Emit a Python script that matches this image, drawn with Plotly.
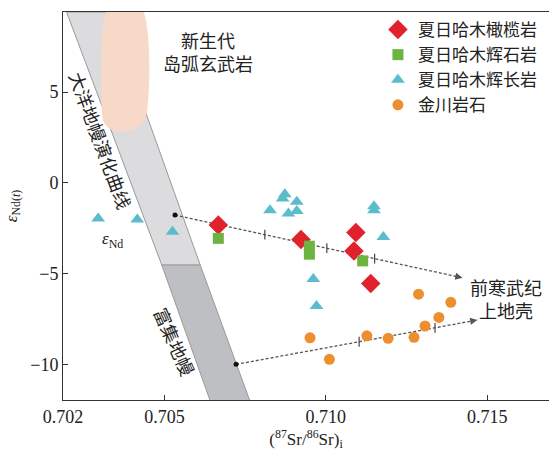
import plotly.graph_objects as go

# ---- data ----
ol_sr = [0.70667, 0.70923, 0.71093, 0.71087, 0.71139]
ol_nd = [-2.32, -3.11, -2.73, -3.75, -5.53]

px_sr = [0.70667, 0.70949, 0.70949, 0.71114]
px_nd = [-3.05, -3.48, -3.92, -4.29]

gb_sr = [0.70295, 0.70416, 0.70525, 0.70873, 0.70866, 0.70910, 0.70827, 0.70884,
         0.70910, 0.71149, 0.71149, 0.71178, 0.70961, 0.70971]
gb_nd = [-1.96, -2.01, -2.69, -0.62, -0.86, -1.04, -1.50, -1.68,
         -1.55, -1.28, -1.50, -2.97, -5.29, -6.77]

jc_sr = [0.70951, 0.71011, 0.71127, 0.71193, 0.71273, 0.71307, 0.71350, 0.71387, 0.71287]
jc_nd = [-8.52, -9.70, -8.41, -8.55, -8.49, -7.87, -7.40, -6.57, -6.12]

# mixing trends (start, end)
trend1_sr = [0.70533, 0.71423]
trend1_nd = [-1.77, -5.22]
trend1_tick_sr = [0.70811, 0.71003, 0.71151]
trend2_sr = [0.70722, 0.71469]
trend2_nd = [-9.98, -7.54]
trend2_tick_sr = [0.71103, 0.71338]

# mantle evolution band (upper light part / lower enriched part)
band_top_sr = [0.70197, 0.70331]
band_mid_sr = [0.70492, 0.70611]
band_bot_sr = [0.70642, 0.70765]
band_top_nd = 9.4
band_mid_nd = -4.52
band_bot_nd = -12.0

x_range = [0.70186, 0.71691]
y_range = [-11.94, 9.4]
x_tickvals = [0.70186, 0.705, 0.710, 0.715]
x_ticktext = ["0.702", "0.705", "0.710", "0.715"]
y_tickvals = [-10, -5, 0, 5]
y_ticktext = ["\u221210", "\u22125", "0", "5"]

names = ["夏日哈木橄榄岩", "夏日哈木辉石岩", "夏日哈木辉长岩", "金川岩石"]

CJK = "Noto Sans CJK SC"
SERIF = "Liberation Serif"

fig = go.Figure()

def interp(t_sr, s, e, sn, en):
    return [sn + (x - s) / (e - s) * (en - sn) for x in t_sr]

shapes = []
# light band
shapes.append(dict(type="path", xref="x", yref="y", layer="below",
                   path=f"M {band_top_sr[0]},{band_top_nd} L {band_top_sr[1]},{band_top_nd} "
                        f"L {band_mid_sr[1]},{band_mid_nd} L {band_mid_sr[0]},{band_mid_nd} Z",
                   fillcolor="#DCDCDF", line=dict(color="#9A9A9A", width=1)))
# dark band
shapes.append(dict(type="path", xref="x", yref="y", layer="below",
                   path=f"M {band_mid_sr[0]},{band_mid_nd} L {band_mid_sr[1]},{band_mid_nd} "
                        f"L {band_bot_sr[1]},{band_bot_nd} L {band_bot_sr[0]},{band_bot_nd} Z",
                   fillcolor="#BEBFC3", line=dict(color="#9A9A9A", width=1)))
# island-arc basalt field
shapes.append(dict(type="path", xref="x", yref="y", layer="below",
                   path="M 0.70322,9.6 L 0.70432,9.6 C 0.70456,8.6 0.70458,6.0 0.70447,4.0 "
                        "C 0.70440,2.6 0.70318,2.4 0.70308,3.6 C 0.70300,5.0 0.70300,8.4 0.70322,9.6 Z",
                   fillcolor="#F7D9C8", line=dict(width=0)))

# trend lines
for tsr, tnd, ticks in [(trend1_sr, trend1_nd, trend1_tick_sr), (trend2_sr, trend2_nd, trend2_tick_sr)]:
    fig.add_trace(go.Scatter(x=tsr, y=tnd, mode="lines", showlegend=False, hoverinfo="skip",
                             line=dict(color="#555555", width=1.3, dash="3px,2px")))
    fig.add_trace(go.Scatter(x=ticks, y=interp(ticks, tsr[0], tsr[1], tnd[0], tnd[1]), mode="markers",
                             showlegend=False, hoverinfo="skip",
                             marker=dict(symbol="line-ns-open", size=7, color="#444444",
                                         line=dict(color="#444444", width=1.2))))
    fig.add_trace(go.Scatter(x=[tsr[0]], y=[tnd[0]], mode="markers", showlegend=False, hoverinfo="skip",
                             marker=dict(symbol="circle", size=5, color="#111111")))

# data
fig.add_trace(go.Scatter(x=ol_sr, y=ol_nd, mode="markers", name=names[0],
                         marker=dict(symbol="diamond", size=15, color="#E0222C")))
fig.add_trace(go.Scatter(x=px_sr, y=px_nd, mode="markers", name=names[1],
                         marker=dict(symbol="square", size=11, color="#6DB340")))
fig.add_trace(go.Scatter(x=gb_sr, y=gb_nd, mode="markers", name=names[2],
                         marker=dict(symbol="triangle-up", size=12, color="#5BBCCB")))
fig.add_trace(go.Scatter(x=jc_sr, y=jc_nd, mode="markers", name=names[3],
                         marker=dict(symbol="circle", size=11, color="#EE8F2F")))

annotations = []
# arrow heads
for tsr, tnd in [(trend1_sr, trend1_nd), (trend2_sr, trend2_nd)]:
    f = 0.97
    annotations.append(dict(x=tsr[1], y=tnd[1], xref="x", yref="y", axref="x", ayref="y",
                            ax=tsr[0] + f * (tsr[1] - tsr[0]), ay=tnd[0] + f * (tnd[1] - tnd[0]),
                            text="", showarrow=True, arrowhead=2, arrowsize=1.1, arrowwidth=1.3,
                            arrowcolor="#555555"))

def txt(x, y, s, size=19, angle=0, family=CJK):
    annotations.append(dict(x=x, y=y, xref="x", yref="y", text=s, showarrow=False,
                            textangle=angle, font=dict(family=family, size=size, color="#222222")))

txt(0.70635, 7.24, "新生代<br>岛弧玄武岩", size=18)
txt(0.71558, -6.34, "前寒武纪<br>上地壳", size=18)
txt(0.70303, 2.35, "大洋地幔演化曲线", size=18, angle=69.7)
txt(0.70532, -8.70, "富集地幔", size=18, angle=66)
txt(0.70340, -3.15, "<i>ε</i><sub>Nd</sub>", size=17, family=SERIF)

fig.update_layout(
    width=549, height=454,
    margin=dict(l=63, r=0, t=12, b=54, autoexpand=False),
    paper_bgcolor="white", plot_bgcolor="white",
    shapes=shapes, annotations=annotations,
    showlegend=True,
    legend=dict(x=0.648, y=1.0, xanchor="left", yanchor="top",
                bgcolor="rgba(0,0,0,0)", font=dict(family=CJK, size=17, color="#222222"),
                itemwidth=30, tracegroupgap=0),
    xaxis=dict(range=x_range, tickvals=x_tickvals, ticktext=x_ticktext, automargin=False,
               ticks="inside", ticklen=5, tickcolor="#333333",
               showgrid=False, zeroline=False, showline=True, linecolor="#333333", linewidth=1,
               mirror=True,
               tickfont=dict(family=SERIF, size=18, color="#222222"),
               title=dict(text="(<sup>87</sup>Sr/<sup>86</sup>Sr)<sub>i</sub>",
                          font=dict(family=SERIF, size=17, color="#222222"), standoff=6)),
    yaxis=dict(range=y_range, tickvals=y_tickvals, ticktext=y_ticktext, automargin=False,
               ticks="inside", ticklen=5, tickcolor="#333333",
               showgrid=False, zeroline=False, showline=True, linecolor="#333333", linewidth=1,
               tickfont=dict(family=SERIF, size=18, color="#222222"),
               title=dict(text="<i>ε</i><sub>Nd(<i>t</i>)</sub>",
                          font=dict(family=SERIF, size=17, color="#222222"), standoff=8)),
)

fig.write_html("out.html", config={"displayModeBar": False},
               post_script="document.body.style.margin='0';")
